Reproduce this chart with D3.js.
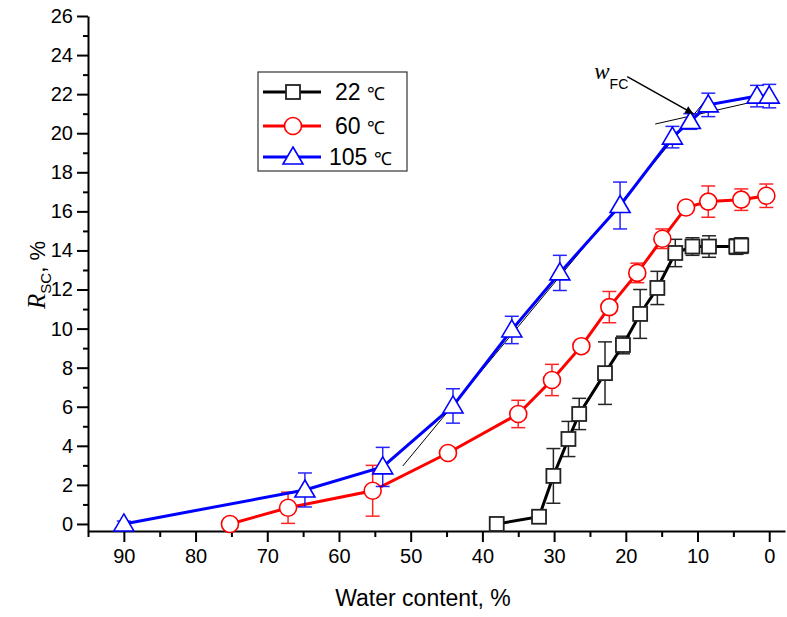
<!DOCTYPE html>
<html>
<head>
<meta charset="utf-8">
<script src="https://cdn.jsdelivr.net/npm/d3@7"></script>
<style>
  body { margin: 0; background: #fff; }
  svg { display: block; }
  .tick text { font-family: "Liberation Sans", Arial, sans-serif; font-size: 20px; fill: #000; }
  .domain, .tick line { stroke: #000; stroke-width: 2px; }
</style>
</head>
<body>
<svg id="chart" width="787" height="617"></svg>
<script>
// --- data ---
const xTicks = [90, 80, 70, 60, 50, 40, 30, 20, 10, 0];
const yTicks = [0, 2, 4, 6, 8, 10, 12, 14, 16, 18, 20, 22, 24, 26];

// 22 °C  [water content, Rsc, error]
const s22x = [38.0, 32.1, 30.1, 28.0, 26.5, 22.9, 20.4, 18.0, 15.6, 13.1, 10.7, 8.4, 4.6, 3.9];
const s22y = [0.0, 0.37, 2.46, 4.35, 5.63, 7.72, 9.16, 10.75, 12.08, 13.87, 14.2, 14.2, 14.2, 14.25];
const s22e = [0.2, 0.1, 1.4, 0.9, 0.8, 1.6, 0.45, 1.25, 0.85, 0.7, 0.45, 0.55, 0.4, 0.4];

// 60 °C
const s60x = [75.2, 67.1, 55.3, 44.8, 35.0, 30.3, 26.2, 22.3, 18.4, 14.9, 11.6, 8.5, 3.9, 0.4];
const s60y = [0.0, 0.83, 1.7, 3.63, 5.63, 7.37, 9.1, 11.1, 12.85, 14.6, 16.2, 16.5, 16.6, 16.8];
const s60e = [0.2, 0.8, 1.3, 0.15, 0.7, 0.8, 0.2, 0.8, 0.5, 0.5, 0.15, 0.8, 0.55, 0.6];

// 105 °C
const s105x = [90.0, 64.75, 53.9, 44.1, 35.9, 29.2, 20.8, 13.5, 11.0, 8.5, 1.7, 0.0];
const s105y = [0.0, 1.74, 2.92, 6.04, 9.93, 12.85, 16.3, 19.8, 20.6, 21.45, 21.9, 21.9];
const s105e = [0.15, 0.87, 1.0, 0.88, 0.7, 0.9, 1.2, 0.55, 0.4, 0.6, 0.55, 0.6];

// thin tangent lines and the w_FC arrow (data coordinates)
const tangents = [
  [[51.1, 2.97], [8.5, 21.85]],
  [[15.9, 20.47], [-0.1, 21.8]]
];
const arrowFrom = [19.8, 22.9];
const arrowTo = [10.6, 21.0];

const series = [
  { label: "22", xs: s22x, ys: s22y, es: s22e, color: "#000000", marker: "square" },
  { label: "60", xs: s60x, ys: s60y, es: s60e, color: "#ff0000", marker: "circle" },
  { label: "105", xs: s105x, ys: s105y, es: s105e, color: "#0000ff", marker: "triangle" }
];

const svg = d3.select("#chart");
const x = d3.scaleLinear().domain([95, -2.2]).range([88, 785]);
const y = d3.scaleLinear().domain([-0.36, 26]).range([531, 16]);

/** draws one marker shape centred at 0,0 */
function drawMarker(g, type, color) {
  if (type === "square") {
    g.append("rect").attr("x", -7).attr("y", -7).attr("width", 14).attr("height", 14)
      .attr("fill", "#fff").attr("stroke", "#222").attr("stroke-width", 1.8);
  } else if (type === "circle") {
    g.append("circle").attr("r", 8.5)
      .attr("fill", "#fff").attr("stroke", color).attr("stroke-width", 1.6);
  } else {
    g.append("path").attr("d", "M0,-10L10,7L-10,7Z")
      .attr("fill", "#fff").attr("stroke", color).attr("stroke-width", 1.6);
  }
}

// axes
svg.append("g").attr("transform", "translate(88,0)")
  .call(d3.axisLeft(y).tickValues(yTicks).tickSize(11).tickSizeOuter(0).tickPadding(4));
svg.append("g").attr("transform", "translate(88,0)")
  .call(d3.axisLeft(y).tickValues(d3.range(1, 26, 2)).tickSize(5).tickFormat(""))
  .select(".domain").remove();

svg.append("g").attr("transform", "translate(0,531)")
  .call(d3.axisBottom(x).tickValues(xTicks).tickSize(11).tickSizeOuter(0).tickPadding(7));
svg.append("g").attr("transform", "translate(0,531)")
  .call(d3.axisBottom(x).tickValues([95, 85, 75, 65, 55, 45, 35, 25, 15, 5]).tickSize(6).tickFormat(""))
  .select(".domain").remove();

// axis titles
svg.append("text").attr("x", 423).attr("y", 606).attr("text-anchor", "middle")
  .attr("font-family", "Liberation Sans, Arial, sans-serif").attr("font-size", 23)
  .text("Water content, %");

const yt = svg.append("text").attr("transform", "translate(45,275) rotate(-90)")
  .attr("text-anchor", "middle").attr("font-family", "Liberation Sans, Arial, sans-serif").attr("font-size", 22);
yt.append("tspan").attr("font-family", "Liberation Serif, Times New Roman, serif").attr("font-style", "italic")
  .attr("font-size", 25).text("R");
yt.append("tspan").attr("font-size", 15).attr("dy", 6).text("SC");
yt.append("tspan").attr("dy", -6).text(", %");

// tangent lines
svg.append("g").selectAll("line").data(tangents).join("line")
  .attr("x1", d => x(d[0][0])).attr("y1", d => y(d[0][1]))
  .attr("x2", d => x(d[1][0])).attr("y2", d => y(d[1][1]))
  .attr("stroke", "#000").attr("stroke-width", 1);

// series: line, error bars, markers
const line = d3.line().x(d => x(d[0])).y(d => y(d[1]));
series.forEach(s => {
  const pts = s.xs.map((v, i) => [v, s.ys[i], s.es[i]]);
  const g = svg.append("g");
  g.append("path").datum(pts).attr("d", line)
    .attr("fill", "none").attr("stroke", s.color).attr("stroke-width", 3);

  const eb = g.append("g").attr("stroke", s.color).attr("stroke-width", 1.5).attr("opacity", 0.85);
  pts.forEach(p => {
    const cx = x(p[0]), top = y(p[1] + p[2]), bot = y(p[1] - p[2]);
    eb.append("line").attr("x1", cx).attr("x2", cx).attr("y1", top).attr("y2", bot);
    eb.append("line").attr("x1", cx - 7).attr("x2", cx + 7).attr("y1", top).attr("y2", top);
    eb.append("line").attr("x1", cx - 7).attr("x2", cx + 7).attr("y1", bot).attr("y2", bot);
  });

  pts.forEach(p => {
    const m = g.append("g").attr("transform", `translate(${x(p[0])},${y(p[1])})`);
    drawMarker(m, s.marker, s.color);
  });
});

// w_FC arrow
svg.append("defs").append("marker").attr("id", "arrowhead")
  .attr("viewBox", "0 -5 10 10").attr("refX", 10).attr("refY", 0)
  .attr("markerWidth", 14).attr("markerHeight", 8).attr("markerUnits", "userSpaceOnUse")
  .attr("orient", "auto")
  .append("path").attr("d", "M0,-5L10,0L0,5Z").attr("fill", "#000");
svg.append("line")
  .attr("x1", x(arrowFrom[0])).attr("y1", y(arrowFrom[1]))
  .attr("x2", x(arrowTo[0])).attr("y2", y(arrowTo[1]))
  .attr("stroke", "#000").attr("stroke-width", 1.5).attr("marker-end", "url(#arrowhead)");

const wl = svg.append("text").attr("x", x(arrowFrom[0]) - 33).attr("y", y(arrowFrom[1]) + 2);
wl.append("tspan").attr("font-family", "Liberation Serif, Times New Roman, serif")
  .attr("font-style", "italic").attr("font-size", 23).text("w");
wl.append("tspan").attr("font-family", "Liberation Sans, Arial, sans-serif")
  .attr("font-size", 14).attr("dy", 10).text("FC");

// legend
const lg = svg.append("g").attr("transform", "translate(258,72)");
lg.append("rect").attr("width", 149).attr("height", 99)
  .attr("fill", "#fff").attr("stroke", "#333").attr("stroke-width", 1.2);
const rowY = [20, 54, 85];
series.forEach((s, i) => {
  const r = lg.append("g").attr("transform", `translate(0,${rowY[i]})`);
  r.append("line").attr("x1", 5).attr("x2", 63).attr("stroke", s.color).attr("stroke-width", 3);
  const m = r.append("g").attr("transform", "translate(35,0)");
  drawMarker(m, s.marker, s.color);
  const t = r.append("text").attr("x", i === 2 ? 71 : 77).attr("y", 8)
    .attr("font-family", "Liberation Sans, Arial, sans-serif").attr("font-size", 23);
  t.append("tspan").text(s.label + " ");
  t.append("tspan").attr("font-size", 18).text("\u2103");
});
</script>
</body>
</html>
